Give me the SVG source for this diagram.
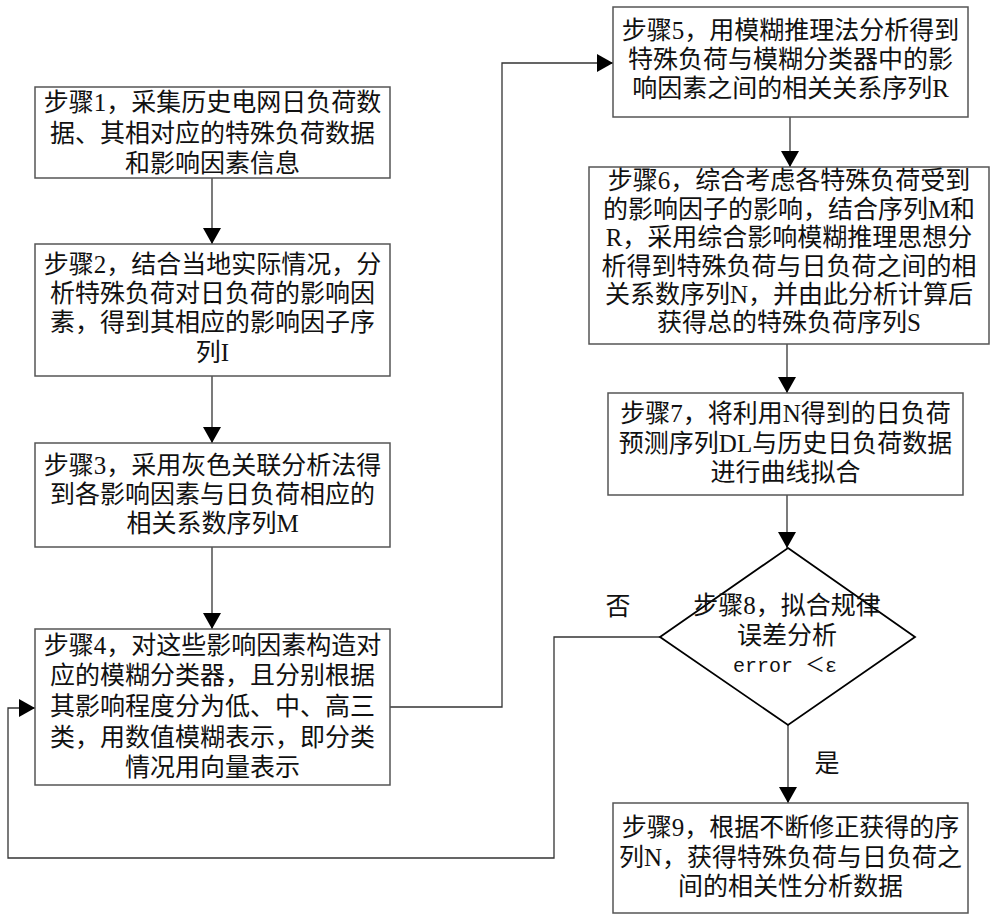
<svg xmlns="http://www.w3.org/2000/svg" width="1000" height="923" viewBox="0 0 1000 923">
<defs>
<style>
.box{fill:#fff;stroke:#555;stroke-width:1.5}
.dia{fill:#fff;stroke:#000;stroke-width:1.8}
.t{font-family:"Liberation Serif","Noto Sans CJK SC",serif;font-size:25px;fill:#111;text-anchor:middle}
.m{font-family:"Liberation Mono","Noto Sans CJK SC",monospace;font-size:20px}
.c{fill:none;stroke:#333;stroke-width:1.3}
</style>
<marker id="ah" viewBox="0 0 16 18" refX="16" refY="9" markerWidth="16" markerHeight="18" markerUnits="userSpaceOnUse" orient="auto">
<path d="M0,0 L16,9 L0,18 Z" fill="#000"/>
</marker>
</defs>
<rect width="1000" height="923" fill="#fff"/>
<g id="connectors">
<line class="c" x1="212" y1="178" x2="212" y2="244" marker-end="url(#ah)"/>
<line class="c" x1="212" y1="376" x2="212" y2="443" marker-end="url(#ah)"/>
<line class="c" x1="212" y1="547" x2="212" y2="629" marker-end="url(#ah)"/>
<polyline class="c" points="390,707 502,707 502,63 613,63" marker-end="url(#ah)"/>
<line class="c" x1="790" y1="117" x2="790" y2="167" marker-end="url(#ah)"/>
<line class="c" x1="787" y1="344" x2="787" y2="393" marker-end="url(#ah)"/>
<line class="c" x1="787" y1="495" x2="787" y2="548" marker-end="url(#ah)"/>
<line class="c" x1="788" y1="725" x2="788" y2="803" marker-end="url(#ah)"/>
<polyline class="c" points="660,637 554,637 554,858 8,858 8,708 35,708" marker-end="url(#ah)"/>
<text class="t" x="618" y="615">否</text>
<text class="t" x="827" y="772">是</text>
</g>
<g id="step1">
<rect class="box" x="35" y="87" width="355" height="91"/>
<text class="t" x="212.5" y="111">步骤1，采集历史电网日负荷数</text>
<text class="t" x="212.5" y="142">据、其相对应的特殊负荷数据</text>
<text class="t" x="212.5" y="172">和影响因素信息</text>
</g>
<g id="step2">
<rect class="box" x="35" y="244" width="355" height="132"/>
<text class="t" x="212.5" y="273">步骤2，结合当地实际情况，分</text>
<text class="t" x="212.5" y="302">析特殊负荷对日负荷的影响因</text>
<text class="t" x="212.5" y="331">素，得到其相应的影响因子序</text>
<text class="t" x="212.5" y="361">列I</text>
</g>
<g id="step3">
<rect class="box" x="35" y="443" width="355" height="104"/>
<text class="t" x="212.5" y="474">步骤3，采用灰色关联分析法得</text>
<text class="t" x="212.5" y="503">到各影响因素与日负荷相应的</text>
<text class="t" x="212.5" y="532">相关系数序列M</text>
</g>
<g id="step4">
<rect class="box" x="35" y="629" width="355" height="156"/>
<text class="t" x="212.5" y="654">步骤4，对这些影响因素构造对</text>
<text class="t" x="212.5" y="684">应的模糊分类器，且分别根据</text>
<text class="t" x="212.5" y="715">其影响程度分为低、中、高三</text>
<text class="t" x="212.5" y="746">类，用数值模糊表示，即分类</text>
<text class="t" x="212.5" y="776">情况用向量表示</text>
</g>
<g id="step5">
<rect class="box" x="613" y="7" width="355" height="110"/>
<text class="t" x="790.5" y="39">步骤5，用模糊推理法分析得到</text>
<text class="t" x="790.5" y="68">特殊负荷与模糊分类器中的影</text>
<text class="t" x="790.5" y="97">响因素之间的相关关系序列R</text>
</g>
<g id="step6">
<rect class="box" x="589" y="167" width="400" height="177"/>
<text class="t" x="789" y="189">步骤6，综合考虑各特殊负荷受到</text>
<text class="t" x="789" y="218">的影响因子的影响，结合序列M和</text>
<text class="t" x="789" y="246">R，采用综合影响模糊推理思想分</text>
<text class="t" x="789" y="275">析得到特殊负荷与日负荷之间的相</text>
<text class="t" x="789" y="303">关系数序列N，并由此分析计算后</text>
<text class="t" x="789" y="331">获得总的特殊负荷序列S</text>
</g>
<g id="step7">
<rect class="box" x="608" y="393" width="355" height="102"/>
<text class="t" x="785.5" y="422">步骤7，将利用N得到的日负荷</text>
<text class="t" x="785.5" y="452">预测序列DL与历史日负荷数据</text>
<text class="t" x="785.5" y="481">进行曲线拟合</text>
</g>
<g id="step8">
<polygon class="dia" points="788,548 915,637 788,725 660,637"/>
<text class="t" x="787" y="614">步骤8，拟合规律</text>
<text class="t" x="787" y="644">误差分析</text>
<text class="t m" x="785" y="672">error ＜ε</text>
</g>
<g id="step9">
<rect class="box" x="613" y="803" width="355" height="110"/>
<text class="t" x="790.5" y="836">步骤9，根据不断修正获得的序</text>
<text class="t" x="790.5" y="866">列N，获得特殊负荷与日负荷之</text>
<text class="t" x="790.5" y="895">间的相关性分析数据</text>
</g>
</svg>
